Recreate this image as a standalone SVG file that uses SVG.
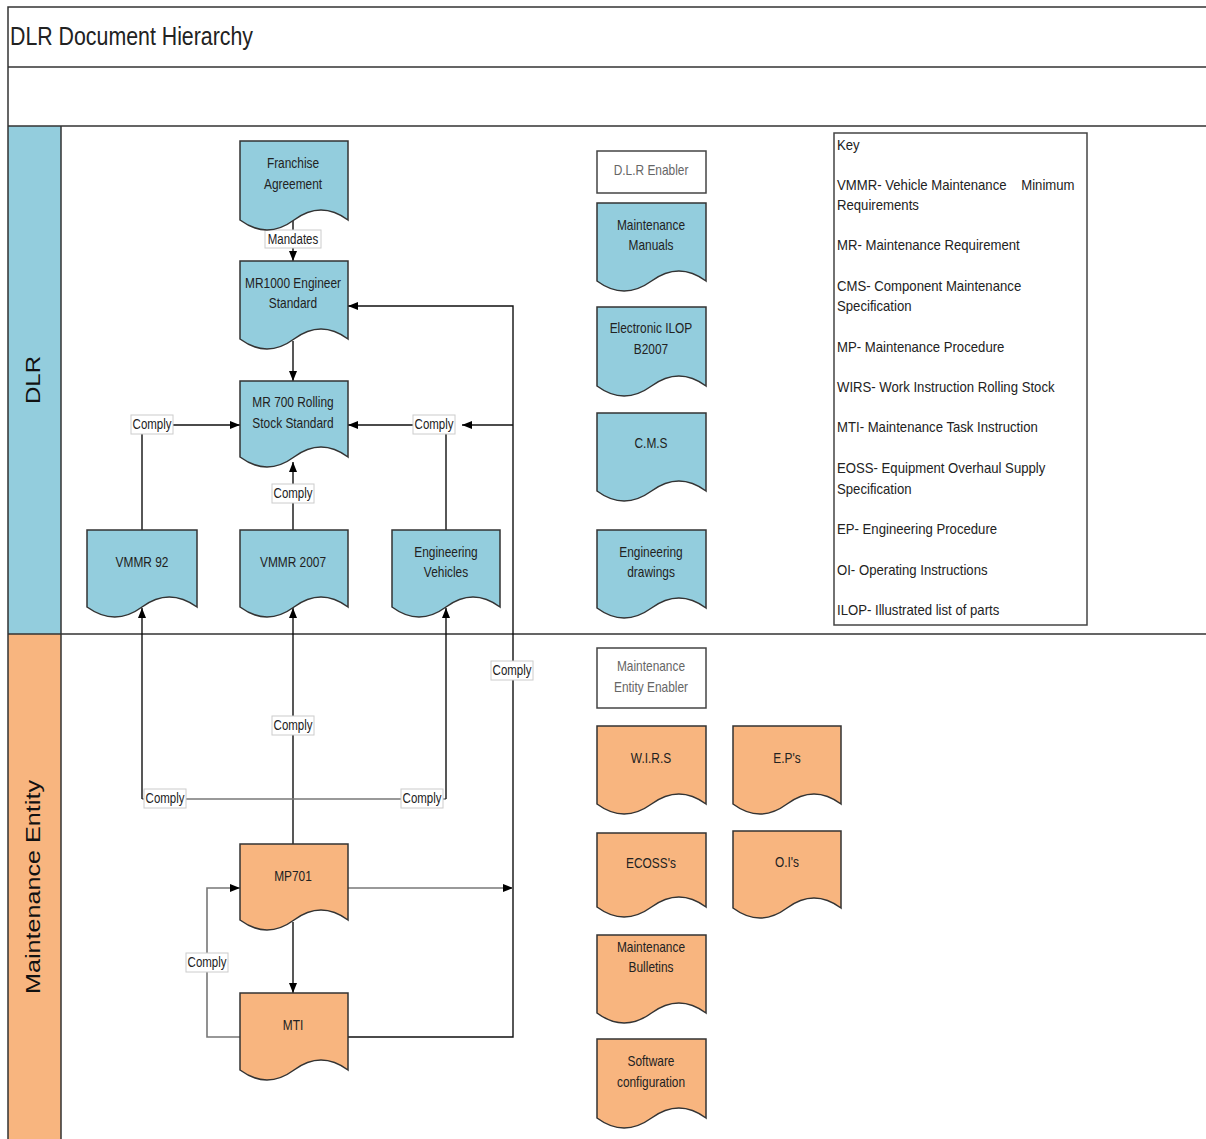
<svg xmlns="http://www.w3.org/2000/svg" width="1206" height="1139" viewBox="0 0 1206 1139">
<defs>
<marker id="ah" viewBox="0 0 10 8" refX="10" refY="4" markerWidth="10" markerHeight="8" markerUnits="userSpaceOnUse" orient="auto"><path d="M0,0 L10,4 L0,8 z" fill="#000"/></marker>
<style>
.frame{fill:none;stroke:#333;stroke-width:1.5}
.blue{fill:#93cddd;stroke:#333;stroke-width:1.5}
.orange{fill:#f8b57f;stroke:#333;stroke-width:1.5}
.white{fill:#fff;stroke:#444;stroke-width:1.5}
.t{font-family:"Liberation Sans",Arial,sans-serif;font-size:14px;fill:#222;text-anchor:middle;transform-box:fill-box;transform-origin:center;transform:scaleX(0.85)}
.tg{fill:#666}
.k{font-family:"Liberation Sans",Arial,sans-serif;font-size:14px;fill:#222;transform-box:fill-box;transform-origin:left center;transform:scaleX(0.94)}
.c{fill:none;stroke:#111;stroke-width:1.4}
.cg{fill:none;stroke:#777;stroke-width:1.6}
.lb{fill:#fff;stroke:#ccc;stroke-width:1}
.lt{font-family:"Liberation Sans",Arial,sans-serif;font-size:14px;fill:#222;text-anchor:middle;transform-box:fill-box;transform-origin:center;transform:scaleX(0.82)}
.lane{font-family:"Liberation Sans",Arial,sans-serif;font-size:20px;fill:#111;text-anchor:middle}
</style>
</defs>
<rect x="0" y="0" width="1206" height="1139" fill="#fff"/>
<g id="pool">
<rect x="8" y="126" width="53" height="508" fill="#93cddd"/>
<rect x="8" y="634" width="53" height="505" fill="#f8b57f"/>
<path class="frame" d="M1206 7 H8 V1139 M8 67 H1206 M8 126 H1206 M8 634 H1206 M61 126 V1139"/>
<text x="10" y="45" font-family="Liberation Sans,Arial,sans-serif" font-size="25" fill="#222" textLength="243" lengthAdjust="spacingAndGlyphs">DLR Document Hierarchy</text>
<text class="lane" transform="translate(40 380) rotate(-90)" textLength="48" lengthAdjust="spacingAndGlyphs">DLR</text>
<text class="lane" transform="translate(40 887) rotate(-90)" textLength="214" lengthAdjust="spacingAndGlyphs">Maintenance Entity</text>
</g>
<g id="connectors">
<path class="c" d="M293 220 V261" marker-end="url(#ah)"/>
<path class="c" d="M293 341 V381" marker-end="url(#ah)"/>
<path class="c" d="M348 1037 H513 V306 H348" marker-end="url(#ah)"/>
<path class="c" d="M513 425 H462" marker-end="url(#ah)"/>
<path class="c" d="M446 530 V425 H348" marker-end="url(#ah)"/>
<path class="c" d="M142 530 V425 H240" marker-end="url(#ah)"/>
<path class="c" d="M293 530 V462" marker-end="url(#ah)"/>
<path class="c" d="M293 844 V608" marker-end="url(#ah)" stroke-width="2"/>
<path class="cg" d="M142 799 H446"/>
<path class="c" d="M142 799 V608" marker-end="url(#ah)"/>
<path class="c" d="M446 799 V608" marker-end="url(#ah)"/>
<path class="cg" d="M348 888 H513" marker-end="url(#ah)"/>
<path class="c" d="M293 922 V993" marker-end="url(#ah)"/>
<path class="cg" d="M240 1037 H207 V888 H240" marker-end="url(#ah)"/>
<rect class="lb" x="265" y="230" width="56" height="18"/><text class="lt" x="293" y="244">Mandates</text>
<rect class="lb" x="131" y="415" width="42" height="19"/><text class="lt" x="152" y="429">Comply</text>
<rect class="lb" x="413" y="415" width="42" height="19"/><text class="lt" x="434" y="429">Comply</text>
<rect class="lb" x="272" y="484" width="42" height="19"/><text class="lt" x="293" y="498">Comply</text>
<rect class="lb" x="491" y="661" width="42" height="19"/><text class="lt" x="512" y="675">Comply</text>
<rect class="lb" x="272" y="716" width="42" height="19"/><text class="lt" x="293" y="730">Comply</text>
<rect class="lb" x="144" y="789" width="42" height="19"/><text class="lt" x="165" y="803">Comply</text>
<rect class="lb" x="401" y="789" width="42" height="19"/><text class="lt" x="422" y="803">Comply</text>
<rect class="lb" x="186" y="953" width="42" height="19"/><text class="lt" x="207" y="967">Comply</text>
</g>
<g id="franchise"><path class="blue" d="M240 141 H348 V220 Q321 200 294 220 T240 220 Z"/><text class="t" x="293" y="168">Franchise</text><text class="t" x="293" y="189">Agreement</text></g>
<g id="mr1000"><path class="blue" d="M240 261 H348 V339 Q321 319 294 339 T240 339 Z"/><text class="t" x="293" y="288">MR1000 Engineer</text><text class="t" x="293" y="308">Standard</text></g>
<g id="mr700"><path class="blue" d="M240 381 H348 V457 Q321 437 294 457 T240 457 Z"/><text class="t" x="293" y="407">MR 700 Rolling</text><text class="t" x="293" y="428">Stock Standard</text></g>
<g id="vmmr92"><path class="blue" d="M87 530 H197 V607 Q169 587 142 607 T87 607 Z"/><text class="t" x="142" y="567">VMMR 92</text></g>
<g id="vmmr2007"><path class="blue" d="M240 530 H348 V607 Q321 587 294 607 T240 607 Z"/><text class="t" x="293" y="567">VMMR 2007</text></g>
<g id="engveh"><path class="blue" d="M392 530 H500 V607 Q473 587 446 607 T392 607 Z"/><text class="t" x="446" y="557">Engineering</text><text class="t" x="446" y="577">Vehicles</text></g>
<g id="dlrenabler"><rect class="white" x="597" y="151" width="109" height="42"/><text class="t tg" x="651" y="175">D.L.R Enabler</text></g>
<g id="mmanuals"><path class="blue" d="M597 203 H706 V281 Q679 261 651.5 281 T597 281 Z"/><text class="t" x="651" y="230">Maintenance</text><text class="t" x="651" y="250">Manuals</text></g>
<g id="eilop"><path class="blue" d="M597 307 H706 V386 Q679 366 651.5 386 T597 386 Z"/><text class="t" x="651" y="333">Electronic ILOP</text><text class="t" x="651" y="354">B2007</text></g>
<g id="cms"><path class="blue" d="M597 413 H706 V491 Q679 471 651.5 491 T597 491 Z"/><text class="t" x="651" y="448">C.M.S</text></g>
<g id="engdrawings"><path class="blue" d="M597 530 H706 V608 Q679 588 651.5 608 T597 608 Z"/><text class="t" x="651" y="557">Engineering</text><text class="t" x="651" y="577">drawings</text></g>
<g id="key">
<rect class="white" x="834" y="133" width="253" height="492"/>
<text class="k" x="837" y="150">Key</text>
<text class="k" x="837" y="190" xml:space="preserve">VMMR- Vehicle Maintenance    Minimum</text>
<text class="k" x="837" y="210">Requirements</text>
<text class="k" x="837" y="250">MR- Maintenance Requirement</text>
<text class="k" x="837" y="291">CMS- Component Maintenance</text>
<text class="k" x="837" y="311">Specification</text>
<text class="k" x="837" y="352">MP- Maintenance Procedure</text>
<text class="k" x="837" y="392">WIRS- Work Instruction Rolling Stock</text>
<text class="k" x="837" y="432">MTI- Maintenance Task Instruction</text>
<text class="k" x="837" y="473">EOSS- Equipment Overhaul Supply</text>
<text class="k" x="837" y="494">Specification</text>
<text class="k" x="837" y="534">EP- Engineering Procedure</text>
<text class="k" x="837" y="575">OI- Operating Instructions</text>
<text class="k" x="837" y="615">ILOP- Illustrated list of parts</text>
</g>
<g id="meenabler"><rect class="white" x="597" y="648" width="109" height="60"/><text class="t tg" x="651" y="671">Maintenance</text><text class="t tg" x="651" y="692">Entity Enabler</text></g>
<g id="wirs"><path class="orange" d="M597 726 H706 V804 Q679 784 651.5 804 T597 804 Z"/><text class="t" x="651" y="763">W.I.R.S</text></g>
<g id="eps"><path class="orange" d="M733 726 H841 V804 Q814 784 787 804 T733 804 Z"/><text class="t" x="787" y="763">E.P's</text></g>
<g id="ecoss"><path class="orange" d="M597 833 H706 V907 Q679 887 651.5 907 T597 907 Z"/><text class="t" x="651" y="868">ECOSS's</text></g>
<g id="ois"><path class="orange" d="M733 831 H841 V908 Q814 888 787 908 T733 908 Z"/><text class="t" x="787" y="867">O.I's</text></g>
<g id="mbulletins"><path class="orange" d="M597 935 H706 V1013 Q679 993 651.5 1013 T597 1013 Z"/><text class="t" x="651" y="952">Maintenance</text><text class="t" x="651" y="972">Bulletins</text></g>
<g id="software"><path class="orange" d="M597 1039 H706 V1118 Q679 1098 651.5 1118 T597 1118 Z"/><text class="t" x="651" y="1066">Software</text><text class="t" x="651" y="1087">configuration</text></g>
<g id="mp701"><path class="orange" d="M240 844 H348 V920 Q321 900 294 920 T240 920 Z"/><text class="t" x="293" y="881">MP701</text></g>
<g id="mti"><path class="orange" d="M240 993 H348 V1070 Q321 1050 294 1070 T240 1070 Z"/><text class="t" x="293" y="1030">MTI</text></g>
</svg>
